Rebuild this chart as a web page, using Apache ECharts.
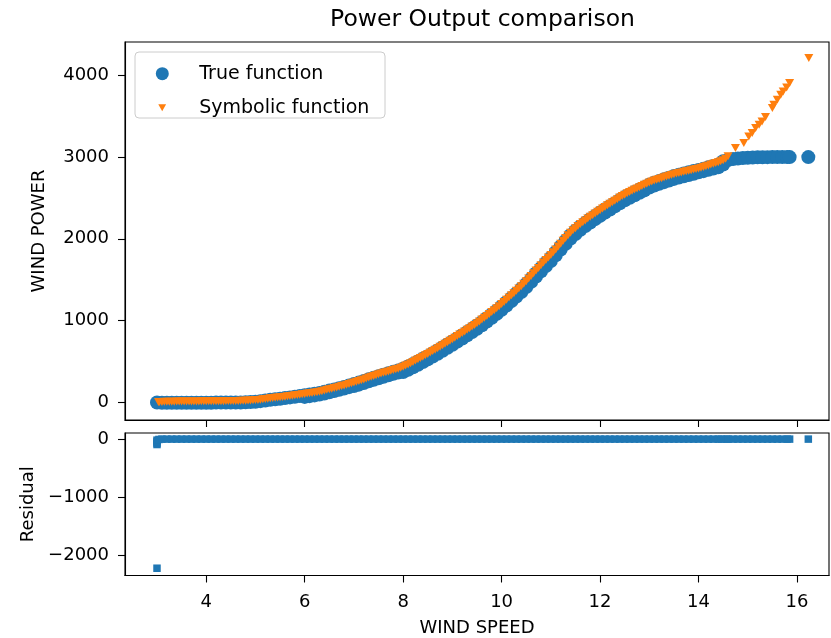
<!DOCTYPE html>
<html>
<head>
<meta charset="utf-8">
<script src="https://cdn.jsdelivr.net/npm/echarts@6/dist/echarts.min.js"></script>
<style>html,body{margin:0;padding:0;background:#fff}#c{width:831px;height:638px}</style>
</head>
<body>
<div id="c"></div>
<script>
// ---- Data ----
// True function: centre of the blue band, then its lower-right edge
const trueX = [3.0,3.1,3.2,3.3,3.4,3.5,3.6,3.7,3.8,3.9,4.0,4.1,4.2,4.3,4.4,4.5,4.6,4.7,4.8,4.9,
  5.0,5.1,5.2,5.3,5.4,5.5,5.6,5.7,5.8,5.9,6.0,6.1,6.2,6.3,6.4,6.5,6.6,6.7,6.8,6.9,
  7.0,7.1,7.2,7.3,7.4,7.5,7.6,7.7,7.8,7.9,8.0,8.1,8.2,8.3,8.4,8.5,8.6,8.7,8.8,8.9,
  9.0,9.1,9.2,9.3,9.4,9.5,9.6,9.7,9.8,9.9,10.0,10.1,10.2,10.3,10.4,10.5,10.6,10.7,10.8,10.9,
  11.0,11.1,11.2,11.3,11.4,11.5,11.6,11.7,11.8,11.9,12.0,12.1,12.2,12.3,12.4,12.5,12.6,12.7,12.8,12.9,
  13.0,13.1,13.2,13.3,13.4,13.5,13.6,13.7,13.8,13.9,14.0,14.1,14.2,14.3,14.4,14.5,14.6,14.7,14.8,14.9,
  15.0,15.1,15.2,15.3,15.4,15.5,15.6,15.7,15.8,15.85,16.23,
  6.0,6.1,6.2,6.3,6.4,6.5,6.6,6.7,6.8,6.9,
  7.0,7.1,7.2,7.3,7.4,7.5,7.6,7.7,7.8,7.9,8.0,8.1,8.2,8.3,8.4,8.5,8.6,8.7,8.8,8.9,
  9.0,9.1,9.2,9.3,9.4,9.5,9.6,9.7,9.8,9.9,10.0,10.1,10.2,10.3,10.4,10.5,10.6,10.7,10.8,10.9,
  11.0,11.1,11.2,11.3,11.4,11.5,11.6,11.7,11.8,11.9,12.0,12.1,12.2,12.3,12.4,12.5,12.6,12.7,12.8,12.9,
  13.0,13.1,13.2,13.3,13.4,13.5,13.6,13.7,13.8,13.9,14.0,14.1,14.2,14.3,14.4,14.5];
const trueY = [-5,-8,-8,-9,-9,-9,-8,-8,-8,-7,-7,-7,-6,-6,-6,-5,-5,-4,-3,0,
  5,12,20,28,35,42,50,58,66,75,84,93,102,112,126,141,155,170,186,203,
  221,239,258,279,299,318,336,354,372,388,408,437,467,498,530,563,597,632,668,705,
  742,780,818,857,897,938,981,1026,1072,1120,1170,1222,1276,1331,1388,1448,1512,1577,1642,1707,
  1768,1837,1907,1977,2043,2099,2150,2195,2238,2280,2320,2360,2398,2436,2474,2510,2543,2573,2602,2632,
  2662,2686,2707,2728,2747,2768,2785,2800,2815,2830,2843,2858,2874,2890,2906,2950,2965,2975,2982,2988,
  2992,2995,2997,2998,2999,3000,3000,3000,3000,3000,3000,
  64,73,82,92,106,121,135,150,166,183,
  196,214,233,254,274,293,311,329,347,363,368,397,427,458,490,523,557,592,628,665,
  702,740,778,817,857,898,941,986,1032,1080,1130,1182,1236,1291,1348,1408,1472,1537,1602,1667,
  1728,1797,1867,1937,2003,2059,2110,2155,2198,2240,2280,2320,2358,2396,2434,2470,2503,2533,2562,2592,
  2627,2651,2672,2693,2712,2733,2750,2765,2780,2795,2813,2828,2844,2860,2876,2910];

// Symbolic function (orange triangles)
const symX = [3.03,3.05,3.1,3.15,3.2,3.25,3.3,3.35,3.4,3.45,3.5,3.55,3.6,3.65,3.7,3.75,3.8,3.85,3.9,3.95,
  4.0,4.05,4.1,4.15,4.2,4.25,4.3,4.35,4.4,4.45,4.5,4.55,4.6,4.65,4.7,4.75,4.8,4.85,4.9,4.95,
  5.0,5.05,5.1,5.15,5.2,5.25,5.3,5.35,5.4,5.45,5.5,5.55,5.6,5.65,5.7,5.75,5.8,5.85,5.9,5.95,
  6.0,6.05,6.1,6.15,6.2,6.25,6.3,6.35,6.4,6.45,6.5,6.55,6.6,6.65,6.7,6.75,6.8,6.85,6.9,6.95,
  7.0,7.05,7.1,7.15,7.2,7.25,7.3,7.35,7.4,7.45,
  7.5,7.55,7.6,7.65,7.7,7.75,7.8,7.85,7.9,7.95,8.0,8.05,8.1,8.15,8.2,8.25,8.3,8.35,8.4,8.45,
  8.5,8.55,8.6,8.65,8.7,8.75,8.8,8.85,8.9,8.95,9.0,9.05,9.1,9.15,9.2,9.25,9.3,9.35,9.4,9.45,
  9.5,9.55,9.6,9.65,9.7,9.75,9.8,9.85,9.9,9.95,10.0,10.05,10.1,10.15,10.2,10.25,10.3,10.35,10.4,10.45,
  10.5,10.55,10.6,10.65,10.7,10.75,10.8,10.85,10.9,10.95,11.0,11.05,11.1,11.15,11.2,11.25,11.3,11.35,11.4,11.45,
  11.5,11.55,11.6,11.65,11.7,11.75,11.8,11.85,11.9,11.95,12.0,12.05,12.1,12.15,12.2,12.25,12.3,12.35,12.4,12.45,
  12.5,12.55,12.6,12.65,12.7,12.75,12.8,12.85,12.9,12.95,13.0,13.05,13.1,13.15,13.2,13.25,13.3,13.35,13.4,13.45,
  13.5,13.55,13.6,13.65,13.7,13.75,13.8,13.85,13.9,13.95,14.0,14.05,14.1,14.15,14.2,14.25,14.3,14.35,14.4,14.45,
  14.5,14.55,14.6,
  14.75,14.92,15.02,15.09,15.16,15.23,15.29,15.36,15.50,15.53,15.60,15.67,15.72,15.79,15.85,16.24];
const symY = [0,1,2,3,4,4,5,5,6,6,7,7,8,8,8,8,9,9,10,10,
  10,10,11,11,12,12,12,12,13,13,14,14,15,15,16,17,18,19,20,22,
  25,27,30,34,38,42,46,50,53,57,60,63,67,71,75,79,83,87,91,95,
  100,104,108,112,117,122,127,134,142,150,158,165,172,180,188,196,204,212,221,230,
  240,249,258,268,278,289,300,310,320,330,
  340,349,358,367,376,385,394,402,410,420,432,447,462,477,492,508,524,540,556,573,
  590,607,625,642,660,678,696,714,733,751,770,789,808,827,846,865,885,905,925,945,
  966,988,1010,1032,1055,1078,1102,1126,1150,1175,1200,1226,1253,1280,1307,1334,1362,1391,1420,1450,
  1480,1512,1545,1578,1610,1642,1675,1708,1740,1770,1800,1835,1870,1905,1940,1975,2010,2043,2075,2103,
  2130,2155,2180,2203,2225,2247,2268,2289,2310,2330,2350,2370,2390,2409,2428,2447,2466,2485,2504,2522,
  2540,2556,2572,2587,2602,2616,2630,2645,2660,2675,2690,2701,2712,2722,2732,2742,2752,2761,2770,2780,
  2790,2798,2805,2812,2819,2826,2833,2840,2847,2853,2860,2869,2878,2888,2898,2908,2918,2928,2938,2949,
  2960,2980,3010,
  3110,3171,3252,3294,3355,3396,3436,3490,3600,3641,3702,3763,3804,3853,3907,4213];

// Residual (blue squares)
const residX = [3.0,3.0,3.0,3.0,3.0,3.04,3.1,3.2,3.3,3.4,3.5,3.6,3.7,3.8,3.9,4.0,4.1,4.2,4.3,4.4,4.5,4.6,4.7,4.8,4.9,
  5.0,5.1,5.2,5.3,5.4,5.5,5.6,5.7,5.8,5.9,6.0,6.1,6.2,6.3,6.4,6.5,6.6,6.7,6.8,6.9,
  7.0,7.1,7.2,7.3,7.4,7.5,7.6,7.7,7.8,7.9,8.0,8.1,8.2,8.3,8.4,8.5,8.6,8.7,8.8,8.9,
  9.0,9.1,9.2,9.3,9.4,9.5,9.6,9.7,9.8,9.9,10.0,10.1,10.2,10.3,10.4,10.5,10.6,10.7,10.8,10.9,
  11.0,11.1,11.2,11.3,11.4,11.5,11.6,11.7,11.8,11.9,12.0,12.1,12.2,12.3,12.4,12.5,12.6,12.7,12.8,12.9,
  13.0,13.1,13.2,13.3,13.4,13.5,13.6,13.7,13.8,13.9,14.0,14.1,14.2,14.3,14.4,14.46,
  14.56,14.6,14.7,14.8,14.9,15.0,15.1,15.2,15.3,15.4,15.5,15.6,15.7,15.8,15.85,16.23];
const residY = [-2220,-95,-70,-45,-20,-8,-2,-2,-2,-2,-2,-2,-2,-2,-2,-2,-2,-2,-2,-2,-2,-2,-2,-2,-2,
  -2,-2,-2,-2,-2,-2,-2,-2,-2,-2,-2,-2,-2,-2,-2,-2,-2,-2,-2,-2,
  -2,-2,-2,-2,-2,-2,-2,-2,-2,-2,-2,-2,-2,-2,-2,-2,-2,-2,-2,-2,
  -2,-2,-2,-2,-2,-2,-2,-2,-2,-2,-2,-2,-2,-2,-2,-2,-2,-2,-2,-2,
  -2,-2,-2,-2,-2,-2,-2,-2,-2,-2,-2,-2,-2,-2,-2,-2,-2,-2,-2,-2,
  -2,-2,-2,-2,-2,-2,-2,-2,-2,-2,-2,-2,-2,-2,-2,-2,
  -2,-2,-2,-2,-2,-2,-2,-2,-2,-2,-2,-2,-2,-2,-2,-2];

const xTicks = [4, 6, 8, 10, 12, 14, 16];
const powerTicks = [0, 1000, 2000, 3000, 4000];
const residTicks = [-2000, -1000, 0];

// ---- Chart ----
const FONT = 'DejaVu Sans';
const BLUE = '#1f77b4', ORANGE = '#ff7f0e';
const zip = (xs, ys) => xs.map((x, i) => [x, ys[i]]);
const minus = v => String(v).replace('-', '\u2212');

const axisCommon = {
  axisLine: { show: true, onZero: false, lineStyle: { color: '#000', width: 1.1 } },
  axisTick: { show: true, inside: false, length: 7, lineStyle: { color: '#000', width: 1.1 } },
  splitLine: { show: false },
  axisLabel: { color: '#000', fontFamily: FONT, fontSize: 18, margin: 16 }
};
const nameStyle = { fontFamily: FONT, fontSize: 18, color: '#000' };

const chart = echarts.init(document.getElementById('c'), null, { renderer: 'canvas' });
chart.setOption({
  animation: false,
  backgroundColor: '#fff',
  graphic: [
    { type: 'text', x: 482.5, y: 20, z: 10,
      style: { text: 'Power Output comparison', fontFamily: FONT, fontSize: 23.5, fill: '#000',
               align: 'center', verticalAlign: 'middle' } },
    { type: 'rect', z: 5, shape: { x: 135, y: 52, width: 250, height: 66, r: 4 },
      style: { fill: 'rgba(255,255,255,0.8)', stroke: '#cccccc', lineWidth: 1 } }
  ],
  grid: [
    { left: 125, right: 2, top: 42, height: 378, show: true, borderColor: '#000', borderWidth: 1.1, backgroundColor: 'transparent' },
    { left: 125, right: 2, top: 433, height: 143, show: true, borderColor: '#000', borderWidth: 1.1, backgroundColor: 'transparent' }
  ],
  legend: [
    { left: 155.8, top: 64.2, padding: 0, itemWidth: 13, itemHeight: 13, z: 20,
      data: [{ name: 'True function', icon: 'circle' }],
      textStyle: { fontFamily: FONT, fontSize: 19, color: '#000', padding: [0, 0, 0, 25.5] } },
    { left: 158.3, top: 98.2, padding: 0, itemWidth: 8, itemHeight: 7, z: 20,
      data: [{ name: 'Symbolic function', icon: 'path://M0,0L10,0L5,9Z' }],
      textStyle: { fontFamily: FONT, fontSize: 19, color: '#000', padding: [0, 0, 0, 28] } }
  ],
  xAxis: [
    Object.assign({}, axisCommon, { type: 'value', gridIndex: 0, min: 2.35, max: 16.65,
      axisTick: Object.assign({}, axisCommon.axisTick, { customValues: xTicks }),
      axisLabel: { show: false } }),
    Object.assign({}, axisCommon, { type: 'value', gridIndex: 1, min: 2.35, max: 16.65,
      axisTick: Object.assign({}, axisCommon.axisTick, { customValues: xTicks }),
      axisLabel: Object.assign({}, axisCommon.axisLabel, { customValues: xTicks, margin: 18 }),
      name: 'WIND SPEED', nameLocation: 'middle', nameGap: 43.5, nameTextStyle: nameStyle })
  ],
  yAxis: [
    Object.assign({}, axisCommon, { type: 'value', gridIndex: 0, min: -219, max: 4409,
      axisTick: Object.assign({}, axisCommon.axisTick, { customValues: powerTicks }),
      axisLabel: Object.assign({}, axisCommon.axisLabel, { customValues: powerTicks, formatter: minus }),
      name: 'WIND POWER', nameLocation: 'middle', nameGap: 77, nameTextStyle: nameStyle }),
    Object.assign({}, axisCommon, { type: 'value', gridIndex: 1, min: -2345, max: 103,
      axisTick: Object.assign({}, axisCommon.axisTick, { customValues: residTicks }),
      axisLabel: Object.assign({}, axisCommon.axisLabel, { customValues: residTicks, formatter: minus }),
      name: 'Residual', nameLocation: 'middle', nameGap: 86, nameTextStyle: nameStyle })
  ],
  series: [
    { name: 'True function', type: 'scatter', xAxisIndex: 0, yAxisIndex: 0,
      symbol: 'circle', symbolSize: 14, itemStyle: { color: BLUE, opacity: 1 },
      data: zip(trueX, trueY), z: 2 },
    { name: 'Symbolic function', type: 'scatter', xAxisIndex: 0, yAxisIndex: 0,
      symbol: 'triangle', symbolRotate: 180, symbolSize: [9, 8], itemStyle: { color: ORANGE, opacity: 1 },
      data: zip(symX, symY), z: 3 },
    { name: 'Residual', type: 'scatter', xAxisIndex: 1, yAxisIndex: 1,
      symbol: 'rect', symbolSize: 7.5, itemStyle: { color: BLUE, opacity: 1 },
      data: zip(residX, residY), z: 2 }
  ]
});
</script>
</body>
</html>
